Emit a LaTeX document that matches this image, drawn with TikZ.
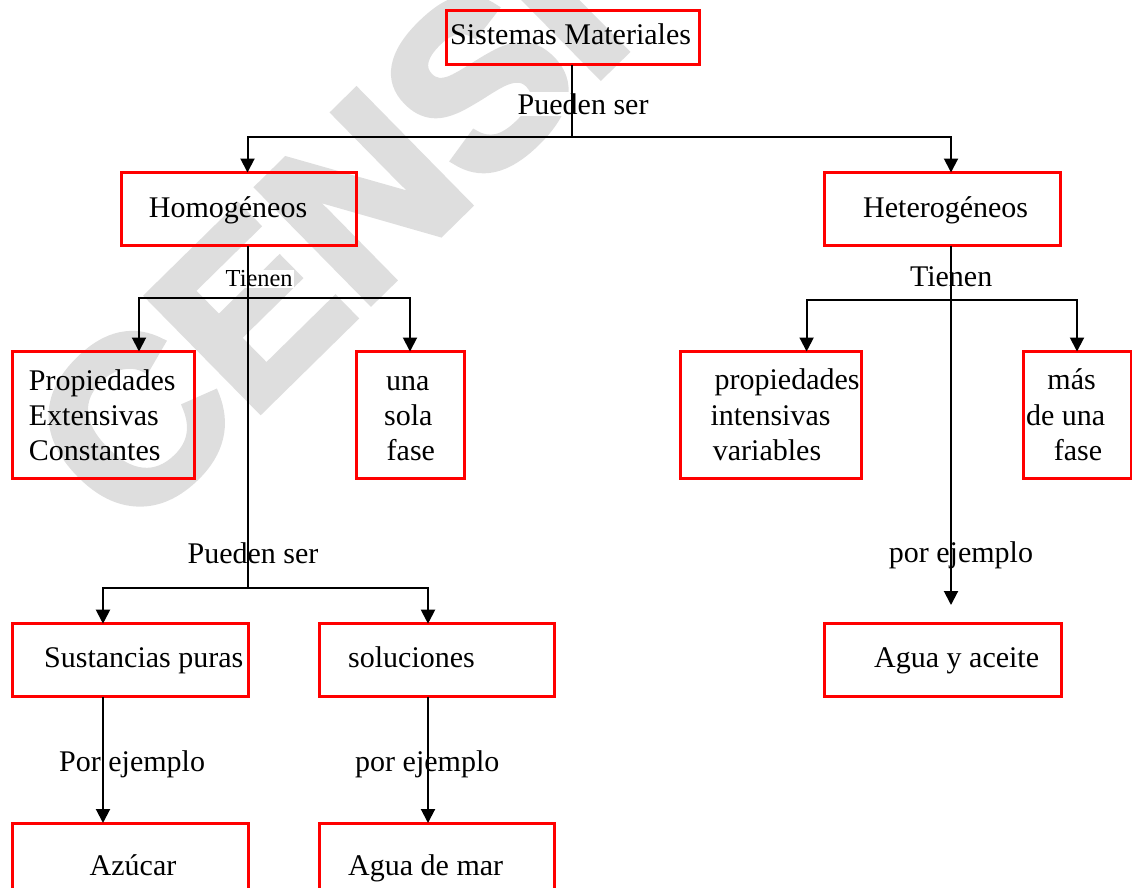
\documentclass[tikz,border=0pt]{standalone}
\usepackage{fontspec}
\setmainfont{Liberation Serif}
\newfontfamily\wmfont{Liberation Sans}[FakeBold=3.5]
\usetikzlibrary{arrows.meta}
\definecolor{boxred}{RGB}{255,0,0}
\definecolor{wmgray}{RGB}{222,222,222}
\begin{document}
\begin{tikzpicture}[x=1pt,y=-1pt,
  box/.style={draw=boxred, line width=3pt, inner sep=0pt, outer sep=0pt},
  txt/.style={font=\fontsize{30}{36}\selectfont, inner sep=0pt, anchor=base west},
  lab/.style={font=\fontsize{30}{36}\selectfont, inner sep=1pt, fill=white, anchor=base west},
  smalllab/.style={lab, font=\fontsize{24.4}{29}\selectfont},
  conn/.style={line width=2pt, black},
  arr/.style={conn, -{Triangle[length=14pt, width=14pt]}},
  wm/.style={font=\wmfont\bfseries\fontsize{232}{232}\selectfont, text=wmgray, inner sep=0pt}
]
\useasboundingbox (0,0) rectangle (1132,888);

% watermark behind everything
\node[wm, rotate=44.5, anchor=base west] (mark) at (130,538) {CENSI};

% boxes
\node[box, minimum width=253, minimum height=54.7] (sm)  at (572.5,37.6) {};
\node[box, minimum width=235, minimum height=73]   (hom) at (238.5,209) {};
\node[box, minimum width=236, minimum height=73]   (het) at (942,209) {};
\node[box, minimum width=181.4, minimum height=127] (pec) at (103.3,415) {};
\node[box, minimum width=108, minimum height=127]  (usf) at (410,415) {};
\node[box, minimum width=181.6, minimum height=127] (piv) at (770.8,415) {};
\node[box, minimum width=108, minimum height=127]  (mdf) at (1077,415) {};
\node[box, minimum width=235.4, minimum height=73] (sp)  at (130.3,660.2) {};
\node[box, minimum width=235.5, minimum height=73] (sol) at (436.8,660.2) {};
\node[box, minimum width=236.4, minimum height=73] (aya) at (942.8,660.2) {};
\node[box, minimum width=235.4, minimum height=73] (azu) at (130.3,859.5) {};
\node[box, minimum width=235.5, minimum height=73] (adm) at (436.8,859.5) {};

% box texts
\node[txt] (tsm) at (450,44.3) {Sistemas Materiales};
\node[txt] (thom) at (148.7,217.3) {Homogéneos};
\node[txt] (thet) at (863,217.7) {Heterogéneos};
\node[txt] (tpec1) at (28.7,390) {Propiedades};
\node[txt] (tpec2) at (28.7,425) {Extensivas};
\node[txt] (tpec3) at (28.7,460) {Constantes};
\node[txt] (tusf1) at (385.8,390) {una};
\node[txt] (tusf2) at (383.9,425) {sola};
\node[txt] (tusf3) at (386.5,460) {fase};
\node[txt] (tpiv1) at (714.4,389.5) {propiedades};
\node[txt] (tpiv2) at (710.3,425) {intensivas};
\node[txt] (tpiv3) at (712.7,460) {variables};
\node[txt] (tmdf1) at (1047.2,389.5) {más};
\node[txt] (tmdf2) at (1025.9,425) {de una};
\node[txt] (tmdf3) at (1053.7,460) {fase};
\node[txt] (tsp) at (44,667.3) {Sustancias puras};
\node[txt] (tsol) at (348,667.3) {soluciones};
\node[txt] (taya) at (874,667.3) {Agua y aceite};
\node[txt] (tazu) at (89.5,875) {Azúcar};
\node[txt] (tadm) at (348,875) {Agua de mar};

% connector labels
\node[lab] (l1) at (516.5,114.3) {Pueden ser};
\node[smalllab] (l2) at (224.5,286.7) {Tienen};
\node[lab] (l3) at (908.8,286) {Tienen};
\node[lab] (l4) at (186.4,563.3) {Pueden ser};
\node[lab] (l5) at (887.7,562.7) {por ejemplo};
\node[lab] (l6) at (58,771.7) {Por ejemplo};
\node[lab] (l7) at (354,771.7) {por ejemplo};

% junction points
\coordinate (j1) at (572,136.7);
\coordinate (j2) at (247.5,297.7);
\coordinate (j3) at (247.5,588);
\coordinate (j4) at (951,299.7);

% Sistemas Materiales -> Homogeneos / Heterogeneos
\draw[conn] (sm.south -| j1) -- (j1);
\draw[arr] (j1) -| ([xshift=9pt]hom.north);
\draw[arr] (j1) -| ([xshift=9pt]het.north);

% Homogeneos -> properties and kinds
\draw[conn] ([xshift=9pt]hom.south) -- (j3);
\draw[arr] (j2) -| ([xshift=35.7pt]pec.north);
\draw[arr] (j2) -| (usf.north);
\draw[arr] (j3) -| ([xshift=-27.3pt]sp.north);
\draw[arr] (j3) -| ([xshift=-8.8pt]sol.north);

% examples
\draw[arr] ([xshift=-27.3pt]sp.south) -- ([xshift=-27.3pt]sp.south |- azu.north);
\draw[arr] ([xshift=-8.8pt]sol.south) -- ([xshift=-8.8pt]sol.south |- adm.north);

% Heterogeneos -> properties and example
\draw[arr, shorten >=18.7pt] ([xshift=9pt]het.south) -- ([xshift=9pt]het.south |- aya.north);
\draw[arr] (j4) -| ([xshift=35.8pt]piv.north);
\draw[arr] (j4) -| (mdf.north);
\end{tikzpicture}
\end{document}
